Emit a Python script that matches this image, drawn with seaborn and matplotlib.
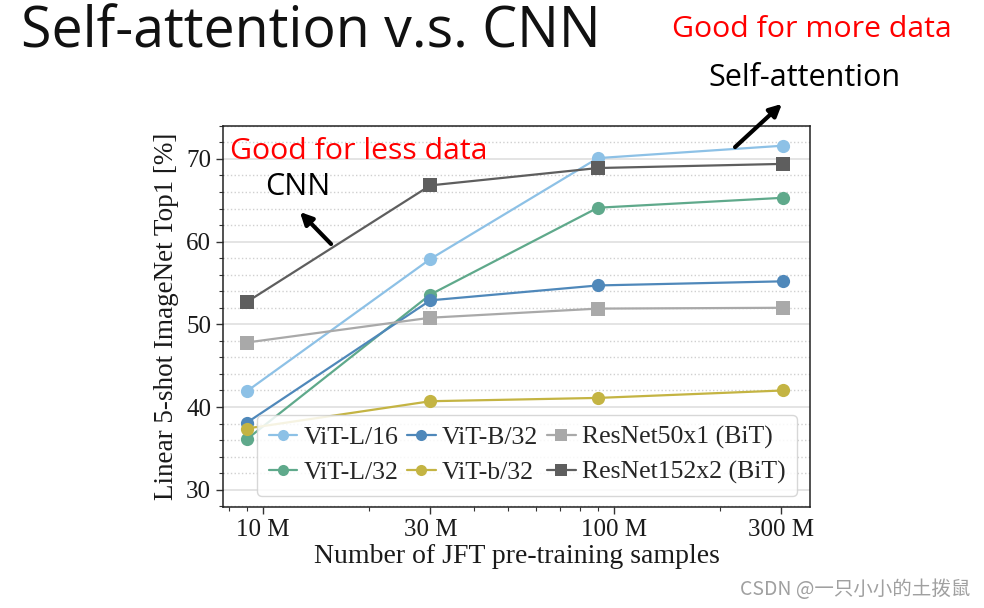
import numpy as np
import pandas as pd
import matplotlib.pyplot as plt
import seaborn as sns
from matplotlib.ticker import FixedLocator, FixedFormatter, MultipleLocator, NullFormatter

# data (JFT subsets: 9M, 30M, 90M, 303M)
samples_m = [9, 30, 90, 303]
vit_l16 = [41.9, 57.9, 70.1, 71.6]
vit_l32 = [36.1, 53.6, 64.1, 65.3]
vit_b32 = [38.1, 52.9, 54.7, 55.2]
vit_b32_small = [37.4, 40.7, 41.1, 42.0]
resnet50 = [47.8, 50.8, 51.9, 52.0]
resnet152 = [52.7, 66.8, 68.9, 69.4]

models = ["ViT-L/16", "ViT-L/32", "ViT-B/32", "ViT-b/32",
          "ResNet50x1 (BiT)", "ResNet152x2 (BiT)"]
series = [vit_l16, vit_l32, vit_b32, vit_b32_small, resnet50, resnet152]
colors = ["#8dc1e6", "#5fa98b", "#4f88ba", "#c4b443", "#a9a9a9", "#5e5e5e"]
markers = ["o", "o", "o", "o", "s", "s"]

x_ticks = [10, 30, 100, 300]
x_ticklabels = ["10 M", "30 M", "100 M", "300 M"]

rows = []
for name, vals in zip(models, series):
    for x, v in zip(samples_m, vals):
        rows.append({"samples": x * 1e6, "acc": v, "model": name})
df = pd.DataFrame(rows)

sns.set_theme(style="white")
plt.rcParams["font.family"] = ["Liberation Serif", "DejaVu Serif"]

fig = plt.figure(figsize=(9.84, 6.08), dpi=100)
ax = fig.add_axes([0.2266, 0.166, 0.5966, 0.627])

sns.lineplot(
    data=df, x="samples", y="acc", hue="model", style="model",
    hue_order=models, style_order=models,
    palette=dict(zip(models, colors)),
    markers=dict(zip(models, markers)), dashes=False,
    markersize=9.5, linewidth=1.6, markeredgewidth=0,
    legend=False, ax=ax,
)

ax.set_xscale("log")
ax.set_xlim(7.7e6, 3.62e8)
ax.set_ylim(27.9, 74.0)
ax.xaxis.set_major_locator(FixedLocator([t * 1e6 for t in x_ticks]))
ax.xaxis.set_major_formatter(FixedFormatter(x_ticklabels))
ax.xaxis.set_minor_formatter(NullFormatter())
ax.yaxis.set_major_locator(MultipleLocator(10))
ax.yaxis.set_minor_locator(MultipleLocator(2))

ax.grid(axis="y", which="major", color="#dcdcdc", linewidth=1.1)
ax.grid(axis="y", which="minor", color="#d0d0d0", linestyle=":", linewidth=1.0)
ax.set_axisbelow(True)
for s in ax.spines.values():
    s.set_color("#222222")
    s.set_linewidth(1.1)

ax.tick_params(axis="both", which="major", direction="out", length=5, width=1,
               color="#333333", labelsize=18, labelcolor="#1a1a1a",
               bottom=True, left=True)
ax.tick_params(axis="both", which="minor", direction="out", length=3, width=0.8,
               color="#333333", bottom=True, left=True)

ax.set_xlabel("Number of JFT pre-training samples", fontsize=20, labelpad=2,
              color="#1a1a1a")
ax.set_ylabel("Linear 5-shot ImageNet Top1 [%]", fontsize=19.5, labelpad=5,
              color="#1a1a1a")

# legend
handles = []
for name, c, m in zip(models, colors, markers):
    h, = ax.plot([], [], color=c, marker=m, markersize=8, linewidth=1.6,
                 markeredgewidth=0, label=name)
    handles.append(h)
leg = ax.legend(handles=handles, ncol=3, loc="lower right",
                bbox_to_anchor=(0.978, 0.029), borderaxespad=0,
                fontsize=18.5, frameon=True,
                handlelength=1.1, handletextpad=0.25, columnspacing=0.35,
                labelspacing=0.45, borderpad=0.45, fancybox=True)
leg.get_frame().set_edgecolor("#d0d0d0")
leg.get_frame().set_alpha(0.85)

# slide annotations
sans = ["Open Sans", "DejaVu Sans"]
fig.text(0.021, 0.945, "Self-attention v.s. CNN", fontsize=40, family=sans,
         ha="left", va="center", color="#111111")
fig.text(0.825, 0.951, "Good for more data", fontsize=21.8, family=sans,
         ha="center", va="center", color="red")
fig.text(0.818, 0.872, "Self-attention", fontsize=22, family=sans,
         ha="center", va="center", color="black")
fig.text(0.365, 0.751, "Good for less data", fontsize=21.8, family=sans,
         ha="center", va="center", color="red")
fig.text(0.303, 0.692, "CNN", fontsize=22, family=sans,
         ha="center", va="center", color="black")

ax.annotate("", xy=(298 / 984, 1 - 210 / 608), xytext=(333 / 984, 1 - 246 / 608),
            xycoords="figure fraction", textcoords="figure fraction",
            arrowprops=dict(arrowstyle="-|>", color="black", lw=3,
                            mutation_scale=18), annotation_clip=False)
ax.annotate("", xy=(784 / 984, 1 - 102 / 608), xytext=(733 / 984, 1 - 149 / 608),
            xycoords="figure fraction", textcoords="figure fraction",
            arrowprops=dict(arrowstyle="-|>", color="black", lw=3,
                            mutation_scale=18), annotation_clip=False)

fig.text(0.986, 0.03, "CSDN @一只小小的土拨鼠", fontsize=14,
         family=["Noto Sans CJK SC", "DejaVu Sans"], color="#a0a0a0",
         ha="right", va="center")

fig.savefig("out.png", dpi=100, facecolor="white")
